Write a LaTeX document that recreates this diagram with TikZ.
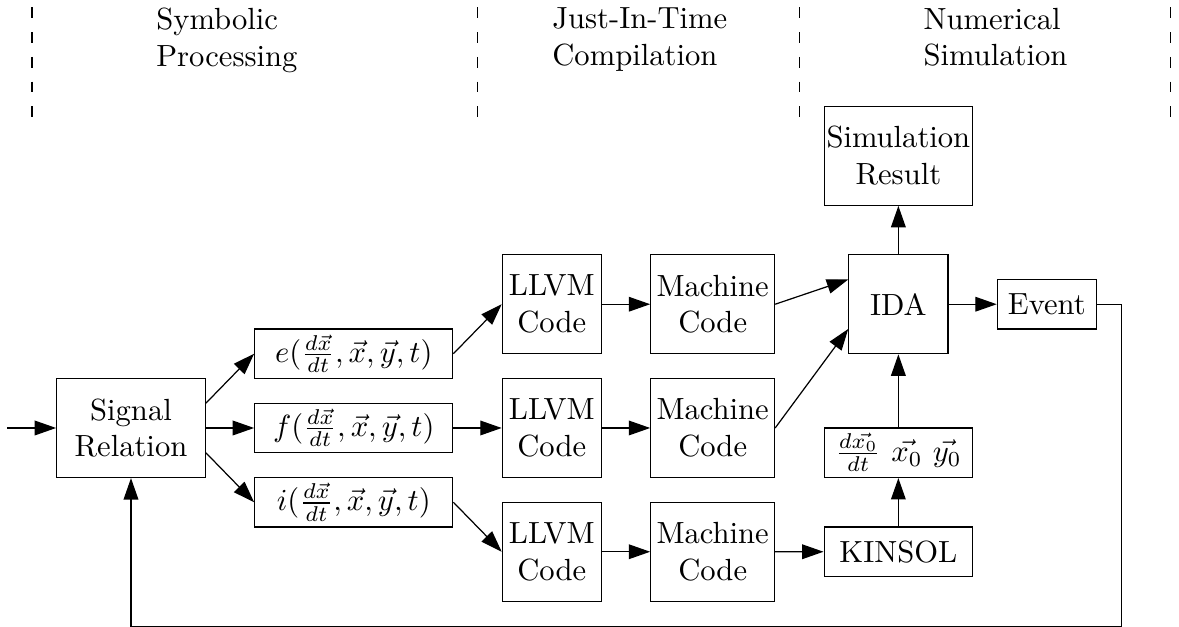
\documentclass[tikz,border=0pt]{standalone}
\usetikzlibrary{arrows.meta,positioning}

\begin{document}
\begin{tikzpicture}
	[blk/.style={rectangle, draw, inner sep=0, minimum width=1.137cm, minimum height=1.137cm, align=center},
	eqn/.style={rectangle, draw, inner sep=0, minimum width=2.274cm, minimum height=0.568cm},
	slim/.style={rectangle, draw, inner sep=0, minimum width=1.705cm, minimum height=0.568cm},
	phase/.style={align=left, anchor=north west, inner sep=0},
	sep/.style={dash pattern=on 3.5pt off 4.6pt},
	post/.style={-{Triangle[length=7pt,width=4.8pt]}}]
	\useasboundingbox (-1.504,-2.285) rectangle (12.033,4.914);
	% phases
	\foreach \x in {-1.137,3.979,7.673,11.937}
		\draw [sep] (\x,4.831) -- (\x,3.553);
	\node (sym) [phase] at (0.284,4.831) {Symbolic\\Processing};
	\node (jit) [phase] at (4.831,4.831) {Just-In-Time\\Compilation};
	\node (num) [phase] at (9.094,4.831) {Numerical\\Simulation};
	% symbolic
	\node (sr) [blk, minimum width=1.705cm] at (0,0) {Signal\\Relation};
	\node (f) [eqn, right of=sr, node distance=2.558cm] {$f(\frac{d\vec{x}}{dt},\vec{x},\vec{y},t)$};
	\node (e) [eqn, above of=f, node distance=0.853cm] {$e(\frac{d\vec{x}}{dt},\vec{x},\vec{y},t)$};
	\node (i) [eqn, below of=f, node distance=0.853cm] {$i(\frac{d\vec{x}}{dt},\vec{x},\vec{y},t)$};
	% jit
	\node (llvm2) [blk, right of=f, node distance=2.274cm] {LLVM\\Code};
	\node (llvm1) [blk, above of=llvm2, node distance=1.421cm] {LLVM\\Code};
	\node (llvm3) [blk, below of=llvm2, node distance=1.421cm] {LLVM\\Code};
	\node (mc2) [blk, minimum width=1.421cm, right of=llvm2, node distance=1.847cm] {Machine\\Code};
	\node (mc1) [blk, minimum width=1.421cm, above of=mc2, node distance=1.421cm] {Machine\\Code};
	\node (mc3) [blk, minimum width=1.421cm, below of=mc2, node distance=1.421cm] {Machine\\Code};
	% simulation
	\node (ida) [blk, right of=mc1, node distance=2.132cm] {IDA};
	\node (res) [blk, minimum width=1.705cm, above of=ida, node distance=1.705cm] {Simulation\\Result};
	\node (init) [slim, below of=ida, node distance=1.705cm] {$\frac{d\vec{x_0}}{dt}$ $\vec{x_0}$ $\vec{y_0}$};
	\node (kinsol) [slim, below of=init, node distance=1.137cm] {KINSOL};
	\node (event) [slim, minimum width=1.137cm, right of=ida, node distance=1.705cm] {Event};
	\coordinate [left of=sr, node distance=1.421cm] (in);
	% connections
	\draw [post] (in) -- (sr);
	\draw [post] ([yshift=0.284cm]sr.east) -- (e.west);
	\draw [post] (sr.east) -- (f.west);
	\draw [post] ([yshift=-0.284cm]sr.east) -- (i.west);
	\draw [post] (e.east) -- (llvm1.west);
	\draw [post] (f.east) -- (llvm2.west);
	\draw [post] (i.east) -- (llvm3.west);
	\draw [post] (llvm1) -- (mc1);
	\draw [post] (llvm2) -- (mc2);
	\draw [post] (llvm3) -- (mc3);
	\draw [post] (mc1.east) -- ([yshift=0.284cm]ida.west);
	\draw [post] (mc2.east) -- ([yshift=-0.284cm]ida.west);
	\draw [post] (mc3) -- (kinsol);
	\draw [post] (kinsol) -- (init);
	\draw [post] (init) -- (ida);
	\draw [post] (ida) -- (res);
	\draw [post] (ida) -- (event);
	\draw [post] (event.east) -- ++(0.284,0) |- ([yshift=-1.705cm]sr.south) -- (sr.south);
\end{tikzpicture}
\end{document}
